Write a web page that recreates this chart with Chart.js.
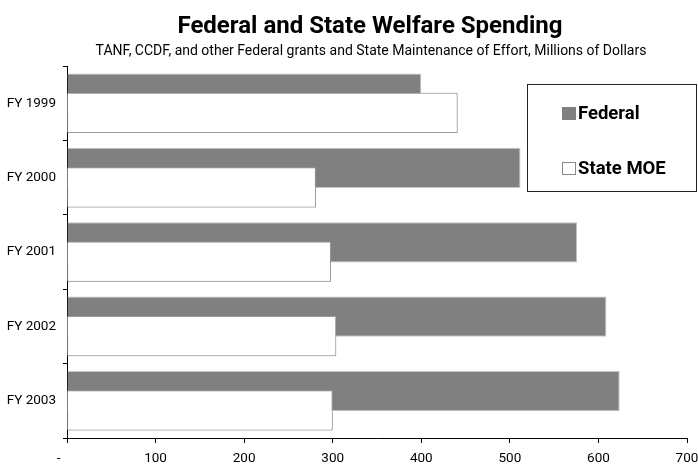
<!DOCTYPE html>
<html>
<head>
<meta charset="utf-8">
<script src="https://cdn.jsdelivr.net/npm/chart.js@4.4.1/dist/chart.umd.min.js"></script>
<style>
  html, body { margin: 0; padding: 0; background: #fff; }
  #wrap { width: 698px; height: 465px; }
</style>
</head>
<body>
<div id="wrap"><canvas id="myChart" width="698" height="465"></canvas></div>
<script>
// Spending by fiscal year, millions of dollars
const years = ['FY 1999', 'FY 2000', 'FY 2001', 'FY 2002', 'FY 2003'];
const federal = [400, 512, 576, 609, 624];
const stateMoe = [441, 281, 298, 304, 300];
const xTickLabels = ['-     ', '100', '200', '300', '400', '500', '600', '700'];

const chartTitle = 'Federal and State Welfare Spending';
const chartSubtitle = 'TANF, CCDF, and other Federal grants and State Maintenance of Effort, Millions of Dollars';

const FONT = 'Roboto, "DejaVu Sans", sans-serif';
const FEDERAL_GRAY = '#808080';

// Federal is dataset 0 so it takes the upper slot of each group; the
// State MOE bars are painted again afterwards so they overlap on top.
const stateOnTop = {
    id: 'stateOnTop',
    afterDatasetsDraw(chart) {
        chart.getDatasetMeta(1).controller.draw();
    }
};

// Title, subtitle and the boxed legend
const headerLegend = {
    id: 'headerLegend',
    afterDraw(chart) {
        const ctx = chart.ctx;
        ctx.save();
        ctx.fillStyle = '#000';
        ctx.textAlign = 'center';
        ctx.textBaseline = 'alphabetic';
        ctx.font = 'bold 24px ' + FONT;
        ctx.fillText(chartTitle, 370, 33);
        ctx.font = '14px ' + FONT;
        ctx.fillText(chartSubtitle, 371, 55);

        // legend box
        ctx.strokeStyle = '#222';
        ctx.lineWidth = 1;
        ctx.strokeRect(527.5, 84.5, 169, 107);

        ctx.textAlign = 'left';
        ctx.font = 'bold 18.5px ' + FONT;
        chart.data.datasets.forEach((ds, i) => {
            const y = 119 + i * 55;
            ctx.fillStyle = ds.backgroundColor;
            ctx.fillRect(562, y - 12, 14, 13);
            ctx.strokeStyle = ds.legendBorder;
            ctx.strokeRect(562.5, y - 11.5, 13, 12);
            ctx.fillStyle = '#000';
            ctx.fillText(ds.label, 578, y);
        });
        ctx.restore();
    }
};

const ctx = document.getElementById('myChart').getContext('2d');

// barPercentage above 1 widens each bar past its slot so the pair overlaps
const barShape = { categoryPercentage: 0.52, barPercentage: 2.08, borderSkipped: 'start' };

new Chart(ctx, {
    type: 'bar',
    data: {
        labels: years,
        datasets: [
            {
                label: 'Federal', legendBorder: FEDERAL_GRAY,
                data: federal,
                backgroundColor: FEDERAL_GRAY, borderColor: '#c4c4c4', borderWidth: 1,
                ...barShape
            },
            {
                label: 'State MOE', legendBorder: '#888',
                data: stateMoe,
                backgroundColor: '#ffffff', borderColor: '#9a9a9a', borderWidth: 1,
                ...barShape
            }
        ]
    },
    options: {
        responsive: false,
        animation: false,
        indexAxis: 'y',
        layout: { padding: { top: 66, right: 11, left: 0, bottom: 0 } },
        scales: {
            x: {
                type: 'linear',
                min: 0,
                max: 700,
                ticks: {
                    stepSize: 100,
                    color: '#000',
                    padding: 8,
                    font: { family: FONT, size: 13.5 },
                    callback: (value) => xTickLabels[Math.round(value / 100)]
                },
                grid: { drawOnChartArea: false, tickLength: 5, color: '#000' },
                border: { color: '#000', width: 1 },
                afterFit(scale) {
                    scale.height = 27;
                    // the "700" label may run into the right margin
                    scale.paddingRight = 0;
                }
            },
            y: {
                type: 'category',
                offset: true,
                ticks: { color: '#000', padding: 7, font: { family: FONT, size: 13.5 } },
                grid: { offset: true, drawOnChartArea: false, tickLength: 4, color: '#000' },
                border: { color: '#000', width: 1 },
                afterFit(scale) { scale.width = 67; }
            }
        },
        plugins: {
            legend: { display: false },
            title: { display: false },
            tooltip: { enabled: false }
        }
    },
    plugins: [stateOnTop, headerLegend]
});
</script>
</body>
</html>
